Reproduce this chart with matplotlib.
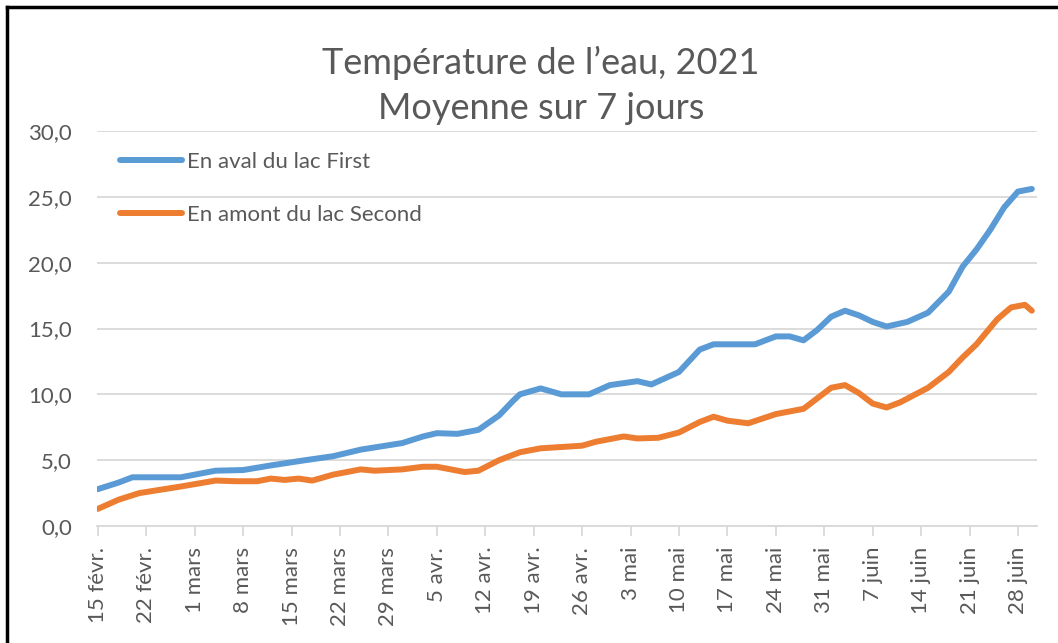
import numpy as np
import pandas as pd
import matplotlib
matplotlib.use('Agg')
from matplotlib import pyplot as plt
from matplotlib.lines import Line2D

# data (7-day averages, deg C)
blue_dates = ['2021-02-15', '2021-02-18', '2021-02-20', '2021-02-27', '2021-03-04',
              '2021-03-08', '2021-03-12', '2021-03-17', '2021-03-21', '2021-03-25',
              '2021-03-31', '2021-04-03', '2021-04-05', '2021-04-08', '2021-04-11',
              '2021-04-14', '2021-04-16', '2021-04-17', '2021-04-20', '2021-04-23',
              '2021-04-27', '2021-04-30', '2021-05-04', '2021-05-06', '2021-05-10',
              '2021-05-13', '2021-05-15', '2021-05-21', '2021-05-24', '2021-05-26',
              '2021-05-28', '2021-05-30', '2021-06-01', '2021-06-03', '2021-06-05',
              '2021-06-07', '2021-06-09', '2021-06-12', '2021-06-15', '2021-06-18',
              '2021-06-20', '2021-06-22', '2021-06-24', '2021-06-26', '2021-06-28',
              '2021-06-30']
blue_vals = [2.8, 3.3, 3.7, 3.7, 4.2,
             4.25, 4.6, 5.0, 5.3, 5.8,
             6.3, 6.8, 7.05, 7.0, 7.3,
             8.4, 9.5, 10.0, 10.45, 10.0,
             10.0, 10.7, 11.0, 10.75, 11.7,
             13.4, 13.8, 13.8, 14.4, 14.4,
             14.1, 14.9, 15.9, 16.35, 16.0,
             15.5, 15.15, 15.5, 16.2, 17.8,
             19.7, 21.0, 22.5, 24.2, 25.4,
             25.6]

orange_dates = ['2021-02-15', '2021-02-18', '2021-02-21', '2021-02-27', '2021-03-04',
                '2021-03-07', '2021-03-10', '2021-03-12', '2021-03-14', '2021-03-16',
                '2021-03-18', '2021-03-21', '2021-03-25', '2021-03-27', '2021-03-31',
                '2021-04-03', '2021-04-05', '2021-04-07', '2021-04-09', '2021-04-11',
                '2021-04-14', '2021-04-17', '2021-04-20', '2021-04-23', '2021-04-26',
                '2021-04-28', '2021-05-02', '2021-05-04', '2021-05-07', '2021-05-10',
                '2021-05-13', '2021-05-15', '2021-05-17', '2021-05-20', '2021-05-24',
                '2021-05-28', '2021-05-30', '2021-06-01', '2021-06-03', '2021-06-05',
                '2021-06-07', '2021-06-09', '2021-06-11', '2021-06-15', '2021-06-18',
                '2021-06-20', '2021-06-22', '2021-06-25', '2021-06-27', '2021-06-29',
                '2021-06-30']
orange_vals = [1.3, 2.0, 2.5, 3.0, 3.45,
               3.4, 3.4, 3.6, 3.5, 3.6,
               3.45, 3.9, 4.3, 4.2, 4.3,
               4.5, 4.5, 4.3, 4.1, 4.2,
               5.0, 5.6, 5.9, 6.0, 6.1,
               6.4, 6.8, 6.65, 6.7, 7.1,
               7.9, 8.3, 8.0, 7.8, 8.5,
               8.9, 9.7, 10.5, 10.7, 10.1,
               9.3, 9.0, 9.4, 10.5, 11.7,
               12.8, 13.8, 15.7, 16.6, 16.8,
               16.35]

series_names = ['En aval du lac First', 'En amont du lac Second']

tick_labels = ['15 févr.', '22 févr.', '1 mars', '8 mars', '15 mars', '22 mars',
               '29 mars', '5 avr.', '12 avr.', '19 avr.', '26 avr.', '3 mai',
               '10 mai', '17 mai', '24 mai', '31 mai', '7 juin', '14 juin',
               '21 juin', '28 juin']

title = "Température de l\u2019eau, 2021\nMoyenne sur 7 jours"


def main():
    grey = '#595959'
    plt.rcParams['font.family'] = ['Lato', 'DejaVu Sans']

    fig = plt.figure(figsize=(10.58, 6.43), dpi=100)
    ax = fig.add_axes([97 / 1058, 1 - 526 / 643, 940 / 1058, 395 / 643])

    ax.plot(pd.to_datetime(blue_dates), blue_vals, color='#5B9BD5', lw=4.3,
            solid_capstyle='round', solid_joinstyle='round', label=series_names[0])
    ax.plot(pd.to_datetime(orange_dates), orange_vals, color='#ED7D31', lw=4.3,
            solid_capstyle='round', solid_joinstyle='round', label=series_names[1])

    start = pd.Timestamp('2021-02-15')
    ticks = pd.date_range(start, periods=len(tick_labels), freq='7D')
    ax.set_xticks(ticks)
    ax.set_xticklabels(tick_labels, rotation=90, fontsize=16, color=grey)
    ax.set_xlim(start - pd.Timedelta(hours=3), pd.Timestamp('2021-06-30 18:00'))

    ax.set_ylim(0, 30)
    ax.set_yticks(np.arange(0, 31, 5))
    ax.set_yticklabels([('%.1f' % v).replace('.', ',') for v in np.arange(0, 31, 5)],
                       fontsize=16, color=grey)
    ax.tick_params(axis='y', length=0, pad=18)
    ax.tick_params(axis='x', length=7, width=1.3, color='#D9D9D9', pad=8)
    ax.grid(axis='y', color='#D9D9D9', lw=1.3)
    ax.set_axisbelow(True)
    for s in ['top', 'right', 'left']:
        ax.spines[s].set_visible(False)
    ax.spines['bottom'].set_color('#D9D9D9')
    ax.spines['bottom'].set_linewidth(1.3)

    leg = ax.legend(loc='upper left', bbox_to_anchor=(0.0245, 0.947), frameon=False,
                    borderpad=0, borderaxespad=0, handlelength=2.8, handletextpad=0.2,
                    labelspacing=1.5, fontsize=16)
    for t in leg.get_texts():
        t.set_color(grey)

    fig.text(541 / 1058, 1 - 85 / 643, title, ha='center', va='center',
             fontsize=26, color=grey, linespacing=1.45)

    # black frame on the left and top
    fig.add_artist(Line2D([7 / 1058, 7 / 1058], [0, 1 - 7 / 643], color='black', lw=2.5))
    fig.add_artist(Line2D([7 / 1058, 1], [1 - 7 / 643, 1 - 7 / 643], color='black', lw=2.5))

    fig.savefig('out.png', dpi=100)
    plt.close(fig)


if __name__ == '__main__':
    main()
